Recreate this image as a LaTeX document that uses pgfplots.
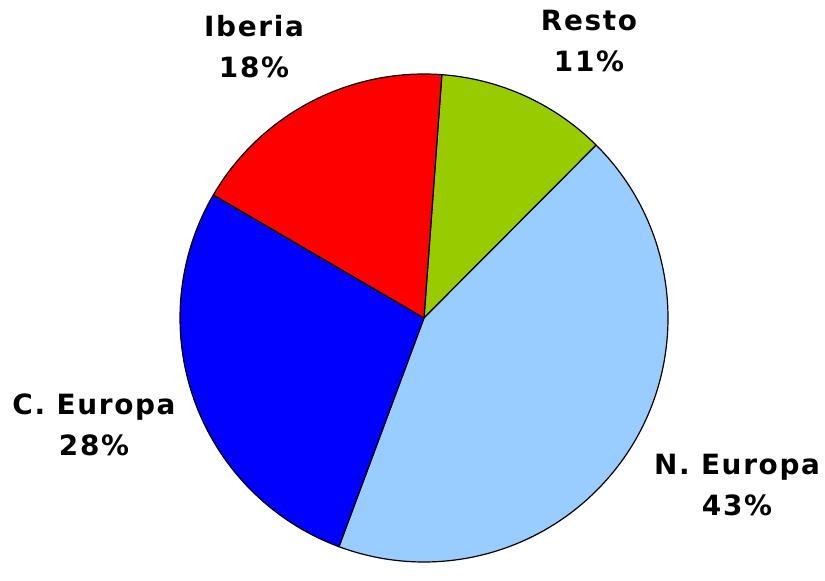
\documentclass[border=0pt]{standalone}
\usepackage{pgfplots}
\pgfplotsset{compat=1.18}
\usepackage{fontspec}
\setmainfont{DejaVu Sans}
\definecolor{cResto}{HTML}{99CC00}
\definecolor{cNEur}{HTML}{99CCFF}
\definecolor{cCEur}{HTML}{0000FF}
\definecolor{cIber}{HTML}{FF0000}

% shares in percent, clockwise from the first edge
\def\pResto{11.3}
\def\pNEur{43.2}
\def\pCEur{27.75}
\def\pIber{17.75}
\def\startang{85.8}
\def\cx{424}\def\cy{249}\def\rad{244}

\pgfmathsetmacro\aA{\startang}
\pgfmathsetmacro\aB{\aA-3.6*\pResto}
\pgfmathsetmacro\aC{\aB-3.6*\pNEur}
\pgfmathsetmacro\aD{\aC-3.6*\pCEur}
\pgfmathsetmacro\aE{\aD-3.6*\pIber}

\newcommand\pieslice[3]{%
  \fill[#1, draw=black, line width=1.2bp, line join=round]
    (axis cs:\cx,\cy) -- ([shift={(#2:\rad bp)}]axis cs:\cx,\cy)
    arc[start angle=#2, end angle=#3, radius=\rad bp] -- cycle;}

\tikzset{lbl/.style={font=\fontsize{28}{41}\selectfont\bfseries\addfontfeatures{LetterSpace=6},
  align=center, inner sep=0pt}}

\begin{document}
\begin{tikzpicture}
\begin{axis}[
  x=1bp, y=1bp,
  xmin=0, xmax=825, ymin=0, ymax=567,
  hide axis, clip=false,
]
\path (rel axis cs:0,0) rectangle (rel axis cs:1,1);
\pieslice{cResto}{\aA}{\aB}
\pieslice{cNEur}{\aB}{\aC}
\pieslice{cCEur}{\aC}{\aD}
\pieslice{cIber}{\aD}{\aE}
\node[lbl] at (axis cs:254,520) {Iberia\\18\%};
\node[lbl] at (axis cs:589,526) {Resto\\11\%};
\node[lbl] at (axis cs:94,142) {C. Europa\\28\%};
\node[lbl] at (axis cs:737,82) {N. Europa\\43\%};
\end{axis}
\end{tikzpicture}
\end{document}
